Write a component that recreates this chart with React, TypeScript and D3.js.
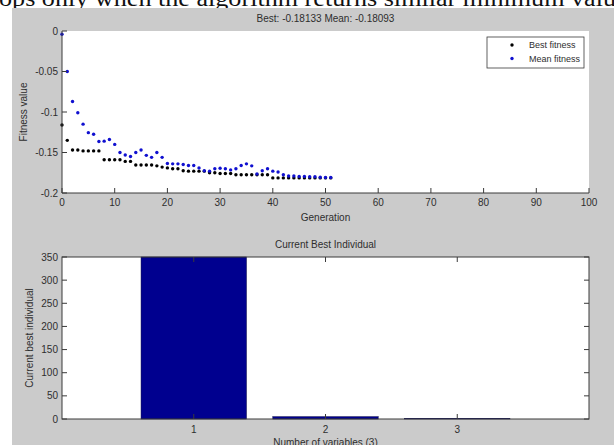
import React from 'react';
import * as d3 from 'd3';

// fitness per generation
const bestFitness = [
    -0.116, -0.135, -0.147, -0.147, -0.148, -0.148, -0.148, -0.148, -0.159, -0.159,
    -0.159, -0.159, -0.161, -0.161, -0.1655, -0.1655, -0.1655, -0.1655, -0.1665, -0.168,
    -0.169, -0.17, -0.17, -0.1725, -0.173, -0.173, -0.173, -0.173, -0.175, -0.175,
    -0.176, -0.176, -0.176, -0.1775, -0.1775, -0.1775, -0.1775, -0.1775, -0.1775, -0.1775,
    -0.18133, -0.18133, -0.18133, -0.18133, -0.18133, -0.18133, -0.18133, -0.18133, -0.18133, -0.18133,
    -0.18133, -0.18133,
];
const meanFitness = [
    -0.004, -0.05, -0.087, -0.101, -0.115, -0.1255, -0.1275, -0.1365, -0.136, -0.134,
    -0.14, -0.15, -0.153, -0.155, -0.15, -0.147, -0.1535, -0.156, -0.15, -0.156,
    -0.1635, -0.164, -0.164, -0.1648, -0.166, -0.166, -0.169, -0.1725, -0.173, -0.17,
    -0.1695, -0.17, -0.1715, -0.17, -0.166, -0.164, -0.1665, -0.1765, -0.1725, -0.17,
    -0.173, -0.174, -0.1775, -0.179, -0.179, -0.1795, -0.1795, -0.18, -0.18, -0.1805,
    -0.1808, -0.18093,
];
const legendLabels = ['Best fitness', 'Mean fitness'];
const variableLabels = ['1', '2', '3'];
const bestIndividual = [350, 5, 1.5];

const W = 614;
const H = 445;
const font = '"Liberation Sans", Arial, sans-serif';
const axisColor = '#3a3a3a';
const textColor = '#2e2e2e';

const App = () => {
    const xGen = d3.scaleLinear().domain([0, 100]).range([62, 589]);
    const yFit = d3.scaleLinear().domain([-0.2, 0]).range([193, 31]);
    const xVar = d3.scaleLinear().domain([0, 4]).range([62, 589]);
    const yVal = d3.scaleLinear().domain([0, 350]).range([419, 257]);

    const fmt = d => String(+d.toFixed(2));
    const tick = 5;
    const barW = xVar(0.8) - xVar(0);

    return (
        <svg
            width={W}
            height={H}
            style={{ position: 'absolute', left: 0, top: 0, fontFamily: font }}
        >
            <rect x={0} y={0} width={W} height={H} fill="#fff" />
            {/* bit of the document text above the screenshot */}
            <text
                x={-1}
                y={6}
                fontFamily='"Liberation Serif", "Times New Roman", serif'
                fontSize={23}
                textLength={617}
                lengthAdjust="spacingAndGlyphs"
                fill="#111"
            >
                ops only when the algorithm returns similar minimum valu
            </text>
            <rect x={12} y={8} width={W - 12} height={H - 8} fill="#cbcbcb" />

            {/* top: fitness plot */}
            <rect x={xGen(0)} y={yFit(0)} width={xGen(100) - xGen(0)} height={yFit(-0.2) - yFit(0)} fill="#fff" />
            <text x={(xGen(0) + xGen(100)) / 2} y={22} textAnchor="middle" fontSize={10} fill={textColor}>
                Best: -0.18133 Mean: -0.18093
            </text>
            {bestFitness.map((v, i) => (
                <circle key={'b' + i} cx={xGen(i)} cy={yFit(v)} r={1.7} fill="#000" />
            ))}
            {meanFitness.map((v, i) => (
                <circle key={'m' + i} cx={xGen(i)} cy={yFit(v)} r={1.7} fill="#1010d0" />
            ))}
            <line x1={xGen(0)} x2={xGen(100)} y1={yFit(-0.2)} y2={yFit(-0.2)} stroke={axisColor} />
            <line x1={xGen(0)} x2={xGen(0)} y1={yFit(-0.2)} y2={yFit(0)} stroke={axisColor} />
            {xGen.ticks(10).map(t => (
                <g key={'xg' + t}>
                    <line x1={xGen(t)} x2={xGen(t)} y1={yFit(-0.2)} y2={yFit(-0.2) - tick} stroke={axisColor} />
                    <text x={xGen(t)} y={206} textAnchor="middle" fontSize={10} fill={textColor}>
                        {t}
                    </text>
                </g>
            ))}
            {yFit.ticks(4).map(t => (
                <g key={'yf' + t}>
                    <line x1={xGen(0)} x2={xGen(0) + tick} y1={yFit(t)} y2={yFit(t)} stroke={axisColor} />
                    <text x={58} y={yFit(t) + 3.5} textAnchor="end" fontSize={10} fill={textColor}>
                        {fmt(t)}
                    </text>
                </g>
            ))}
            <text x={(xGen(0) + xGen(100)) / 2} y={221} textAnchor="middle" fontSize={10} fill={textColor}>
                Generation
            </text>
            <text
                transform={`translate(27,${(yFit(0) + yFit(-0.2)) / 2}) rotate(-90)`}
                textAnchor="middle"
                fontSize={10}
                fill={textColor}
            >
                Fitness value
            </text>

            {/* legend */}
            <rect x={487} y={37} width={97} height={31} fill="#fff" stroke={axisColor} strokeWidth={0.8} />
            {legendLabels.map((l, i) => (
                <g key={l}>
                    <circle cx={512} cy={45 + i * 13.5} r={1.7} fill={i === 0 ? '#000' : '#1010d0'} />
                    <text x={529} y={48 + i * 13.5} fontSize={9} fill={textColor}>
                        {l}
                    </text>
                </g>
            ))}

            {/* bottom: current best individual */}
            <rect x={xVar(0)} y={yVal(350)} width={xVar(4) - xVar(0)} height={yVal(0) - yVal(350)} fill="#fff" />
            <text x={(xVar(0) + xVar(4)) / 2} y={248} textAnchor="middle" fontSize={10} fill={textColor}>
                Current Best Individual
            </text>
            {bestIndividual.map((v, i) => (
                <rect
                    key={'bar' + i}
                    x={xVar(i + 1) - barW / 2}
                    y={yVal(v)}
                    width={barW}
                    height={yVal(0) - yVal(v)}
                    fill="#00008f"
                    stroke="#000040"
                    strokeWidth={0.5}
                />
            ))}
            <rect
                x={xVar(0)}
                y={yVal(350)}
                width={xVar(4) - xVar(0)}
                height={yVal(0) - yVal(350)}
                fill="none"
                stroke={axisColor}
            />
            {variableLabels.map((l, i) => (
                <g key={'xv' + l}>
                    <line x1={xVar(i + 1)} x2={xVar(i + 1)} y1={yVal(0)} y2={yVal(0) - tick} stroke={axisColor} />
                    <line x1={xVar(i + 1)} x2={xVar(i + 1)} y1={yVal(350)} y2={yVal(350) + tick} stroke={axisColor} />
                    <text x={xVar(i + 1)} y={433} textAnchor="middle" fontSize={10} fill={textColor}>
                        {l}
                    </text>
                </g>
            ))}
            {yVal.ticks(7).map(t => (
                <g key={'yv' + t}>
                    <line x1={xVar(0)} x2={xVar(0) + tick} y1={yVal(t)} y2={yVal(t)} stroke={axisColor} />
                    <line x1={xVar(4)} x2={xVar(4) - tick} y1={yVal(t)} y2={yVal(t)} stroke={axisColor} />
                    <text x={58} y={yVal(t) + 3.5} textAnchor="end" fontSize={10} fill={textColor}>
                        {t}
                    </text>
                </g>
            ))}
            <text x={(xVar(0) + xVar(4)) / 2} y={446} textAnchor="middle" fontSize={10} fill={textColor}>
                Number of variables (3)
            </text>
            <text
                transform={`translate(33,${(yVal(0) + yVal(350)) / 2}) rotate(-90)`}
                textAnchor="middle"
                fontSize={10}
                fill={textColor}
            >
                Current best individual
            </text>
        </svg>
    );
};

export default App;
